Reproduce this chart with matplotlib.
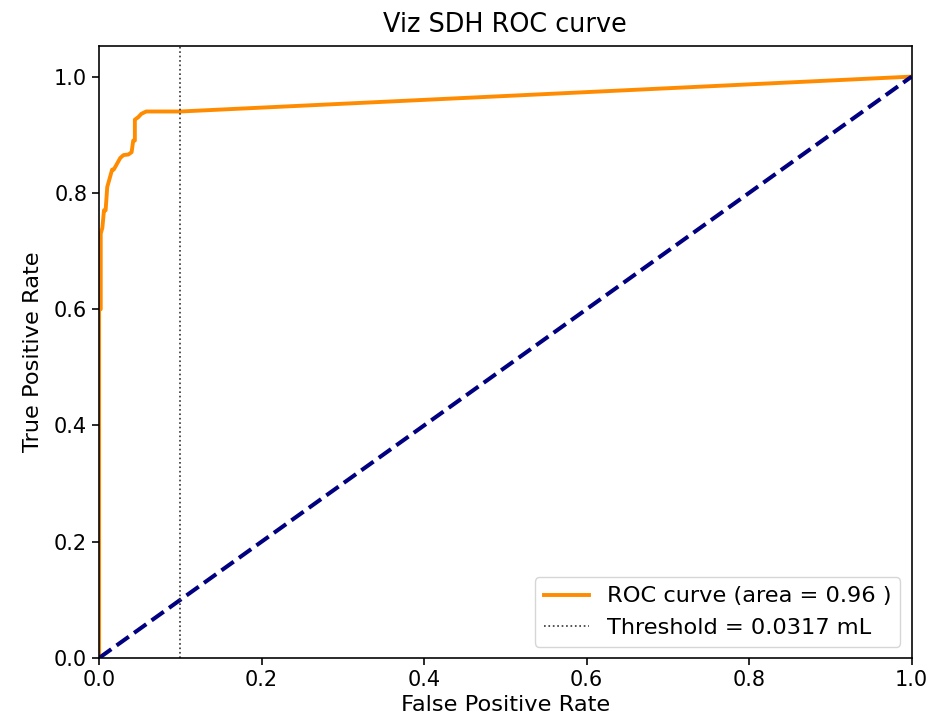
import matplotlib
matplotlib.use("Agg")
import matplotlib.pyplot as plt

fpr = [0, 0, 0.002, 0.002, 0.004, 0.006, 0.008, 0.010, 0.012, 0.016, 0.018, 0.022,
       0.026, 0.030, 0.036, 0.040, 0.042, 0.044, 0.044, 0.048, 0.052, 0.058, 0.10, 1.0]
tpr = [0, 0.60, 0.60, 0.73, 0.74, 0.77, 0.77, 0.81, 0.82, 0.84, 0.84, 0.85,
       0.86, 0.865, 0.866, 0.87, 0.89, 0.89, 0.926, 0.93, 0.936, 0.94, 0.94, 1.0]
chance = [0, 1]
threshold_fpr = 0.1
roc_label = "ROC curve (area = 0.96 )"
thr_label = "Threshold = 0.0317 mL"

s = 1.46
plt.rcParams['font.size'] = 16.2
fig = plt.figure(figsize=(9.35, 7.27), dpi=100)
ax = fig.add_axes([0.106, 0.095, 0.869, 0.842])
ax.plot(fpr, tpr, color='darkorange', lw=2.8, label=roc_label)
ax.plot(chance, chance, color='navy', lw=2 * s, linestyle='--')
ax.axvline(threshold_fpr, color='#333333', linestyle=':', lw=1.2, label=thr_label)
ax.set_xlim(0.0, 1.0)
ax.set_ylim(0.0, 1.053)
ax.set_xlabel('False Positive Rate', labelpad=4)
ax.set_ylabel('True Positive Rate', labelpad=8)
ax.set_title('Viz SDH ROC curve', fontsize=18.4, pad=10)
ax.tick_params(width=0.8 * s, length=3.5 * s, labelsize=15)
for sp in ax.spines.values():
    sp.set_linewidth(0.8 * s)
ax.legend(loc='lower right', fontsize=16.2)
fig.savefig('out.png', dpi=100)
